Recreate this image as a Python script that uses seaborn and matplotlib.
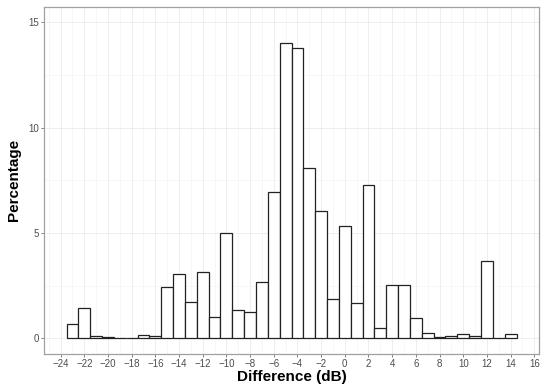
import matplotlib
matplotlib.use('Agg')
import matplotlib.pyplot as plt
from matplotlib.ticker import MultipleLocator
import seaborn as sns

# Data: 1 dB bins, centre value and percentage of observations
diff_db = [-23, -22, -21, -20, -19, -18, -17, -16, -15, -14, -13, -12, -11, -10,
           -9, -8, -7, -6, -5, -4, -3, -2, -1, 0, 1, 2, 3, 4, 5, 6, 7, 8, 9,
           10, 11, 12, 13, 14]
percentage = [0.65, 1.41, 0.10, 0.05, 0.03, 0.03, 0.15, 0.08, 2.45, 3.03, 1.74,
              3.16, 1.01, 5.00, 1.36, 1.22, 2.66, 6.92, 14.02, 13.76, 8.08, 6.03,
              1.85, 5.33, 1.67, 7.26, 0.46, 2.52, 2.52, 0.98, 0.25, 0.05, 0.10,
              0.20, 0.12, 3.68, 0.03, 0.22]
x_ticks = list(range(-24, 17, 2))
y_ticks = [0, 5, 10, 15]

sns.set_theme(style="white")
plt.rcParams['font.family'] = ['Liberation Sans', 'DejaVu Sans']

fig = plt.figure(figsize=(5.5, 3.86), dpi=100)
ax = fig.add_axes([0.080, 0.083, 0.900, 0.900])

sns.histplot(x=diff_db, weights=percentage, binwidth=1, binrange=(-23.5, 14.5),
             color='white', edgecolor='#222222', linewidth=0.9, alpha=1,
             ax=ax, zorder=3)

ax.set_xlim(-25.4, 16.4)
ax.set_ylim(-0.75, 15.75)
ax.set_xticks(x_ticks)
ax.set_yticks(y_ticks)
ax.xaxis.set_minor_locator(MultipleLocator(1))
ax.yaxis.set_minor_locator(MultipleLocator(2.5))

ax.grid(which='major', color='#EBEBEB', linewidth=0.6, zorder=0)
ax.grid(which='minor', color='#F2F2F2', linewidth=0.4, zorder=0)
ax.set_axisbelow(True)

for s in ax.spines.values():
    s.set_color('#A0A0A0')
    s.set_linewidth(0.9)

ax.tick_params(which='major', length=2, width=0.5, color='#4D4D4D',
               labelsize=7, labelcolor='#4D4D4D', pad=1.5, bottom=True, left=True)
ax.tick_params(which='minor', length=0)
ax.set_xticklabels([f"\u2212{abs(t)}" if t < 0 else str(t) for t in x_ticks])

ax.set_xlabel('Difference (dB)', fontsize=11, fontweight='bold', labelpad=1,
              color='black')
ax.set_ylabel('Percentage', fontsize=11, fontweight='bold', labelpad=5,
              color='black')

fig.savefig('out.png', dpi=100)
plt.close(fig)
